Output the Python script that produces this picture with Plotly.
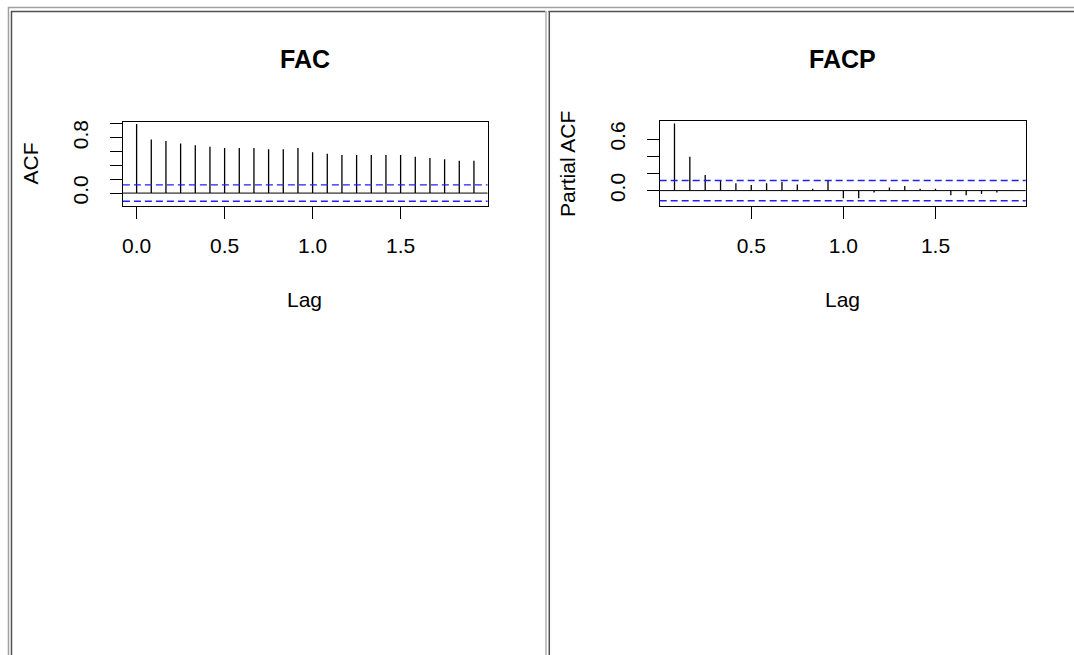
import plotly.graph_objects as go

# ---- data ----
acf_lags = [i / 12 for i in range(24)]
acf_vals = [1.0, 0.773, 0.754, 0.715, 0.691, 0.671, 0.652, 0.652, 0.652, 0.633,
            0.633, 0.652, 0.589, 0.570, 0.551, 0.551, 0.551, 0.551, 0.551, 0.527,
            0.507, 0.488, 0.469, 0.469]
pacf_lags = [i / 12 for i in range(1, 24)]
pacf_vals = [0.783, 0.395, 0.182, 0.112, 0.085, 0.066, 0.085, 0.100, 0.070, 0.023,
             0.112, -0.089, -0.089, -0.023, 0.035, 0.054, 0.023, 0.023, -0.054,
             -0.054, -0.039, -0.023, -0.004]
ci = 0.118
acf_xticks = [0.0, 0.5, 1.0, 1.5]
acf_xticktext = ["0.0", "0.5", "1.0", "1.5"]
pacf_xticks = [0.5, 1.0, 1.5]
pacf_xticktext = ["0.5", "1.0", "1.5"]
acf_yticks = [0.0, 0.2, 0.4, 0.6, 0.8, 1.0]
acf_yticktext = ["0.0", "", "", "", "0.8", ""]
pacf_yticks = [0.0, 0.2, 0.4, 0.6]
pacf_yticktext = ["0.0", "", "", "0.6"]

W, H = 1074, 655
FONT = "Liberation Sans, Arial, sans-serif"


def px(x):
    return x / W


def py(y):
    return 1 - y / H


def spikes(lags, vals):
    xs, ys = [], []
    for l, v in zip(lags, vals):
        xs += [l, l, None]
        ys += [0, v, None]
    return xs, ys


fig = go.Figure()
x1, y1 = spikes(acf_lags, acf_vals)
fig.add_trace(go.Scatter(x=x1, y=y1, mode="lines", line=dict(color="black", width=1.3),
                         xaxis="x", yaxis="y", showlegend=False, hoverinfo="skip"))
x2, y2 = spikes(pacf_lags, pacf_vals)
fig.add_trace(go.Scatter(x=x2, y=y2, mode="lines", line=dict(color="black", width=1.3),
                         xaxis="x2", yaxis="y2", showlegend=False, hoverinfo="skip"))

axis_common = dict(showgrid=False, showline=True, mirror=True, linecolor="black", linewidth=1,
                   ticks="outside", ticklen=12, tickcolor="black", tickwidth=1,
                   tickfont=dict(family=FONT, size=21, color="black"), zeroline=False)

fig.update_layout(
    width=W, height=H, margin=dict(l=0, r=0, t=0, b=0),
    paper_bgcolor="white", plot_bgcolor="white", showlegend=False,
    xaxis=dict(domain=[px(122), px(487)], range=[-0.078, 1.994], anchor="y",
               tickvals=acf_xticks, ticktext=acf_xticktext, ticklabelstandoff=9, **axis_common),
    yaxis=dict(domain=[py(204.5), py(120)], range=[-0.185, 1.033], anchor="x",
               tickvals=acf_yticks, ticktext=acf_yticktext, tickangle=-90, ticklabelstandoff=13,
               **axis_common),
    xaxis2=dict(domain=[px(659.3), px(1025.7)], range=[0.003, 1.99], anchor="y2",
                tickvals=pacf_xticks, ticktext=pacf_xticktext, ticklabelstandoff=9, **axis_common),
    yaxis2=dict(domain=[py(204.5), py(119.5)], range=[-0.178, 0.81], anchor="x2",
                tickvals=pacf_yticks, ticktext=pacf_yticktext, tickangle=-90, ticklabelstandoff=13,
                **axis_common),
)

shapes = []
# zero lines and confidence bounds
for xr, yr in [("x domain", "y"), ("x2 domain", "y2")]:
    shapes.append(dict(type="line", xref=xr, yref=yr, x0=0, x1=1, y0=0, y1=0,
                       line=dict(color="black", width=1)))
    for c in (ci, -ci):
        shapes.append(dict(type="line", xref=xr, yref=yr, x0=0, x1=1, y0=c, y1=c,
                           line=dict(color="#2020ff", width=1.3, dash="7px,4px")))

# page frames (html table borders)
def hline(x0, x1, y, color, w=1):
    shapes.append(dict(type="line", xref="paper", yref="paper", x0=px(x0), x1=px(x1),
                       y0=py(y), y1=py(y), line=dict(color=color, width=w)))


def vline(x, y0, y1, color, w=1):
    shapes.append(dict(type="line", xref="paper", yref="paper", x0=px(x), x1=px(x),
                       y0=py(y0), y1=py(y1), line=dict(color=color, width=w)))

hline(7, 1074, 5.5, "#a0a0a0", 1.5)
vline(7.5, 5, 655, "#a0a0a0", 1.5)
hline(10, 545, 9.5, "#505050", 1.5)
vline(10.5, 9, 655, "#505050", 1.5)
vline(545.5, 9, 655, "#b0b0b0", 1.5)
hline(548, 1074, 9.5, "#505050", 1.5)
vline(548.8, 9, 655, "#505050", 1.5)
fig.update_layout(shapes=shapes)

ann = []
def text(t, x, y, size, angle=0):
    ann.append(dict(text=t, x=px(x), y=py(y), xref="paper", yref="paper", showarrow=False,
                    xanchor="center", yanchor="middle", textangle=angle,
                    font=dict(family=FONT, size=size, color="black")))

text("<b>FAC</b>", 304, 57, 25)
text("<b>FACP</b>", 842, 57, 25)
text("Lag", 304, 298, 21)
text("Lag", 842, 298, 21)
text("ACF", 30, 162, 21, -90)
text("Partial ACF", 567, 162, 21, -90)
fig.update_layout(annotations=ann)

fig.write_html("out.html", config={"displayModeBar": False},
               post_script="document.body.style.margin='0';")
